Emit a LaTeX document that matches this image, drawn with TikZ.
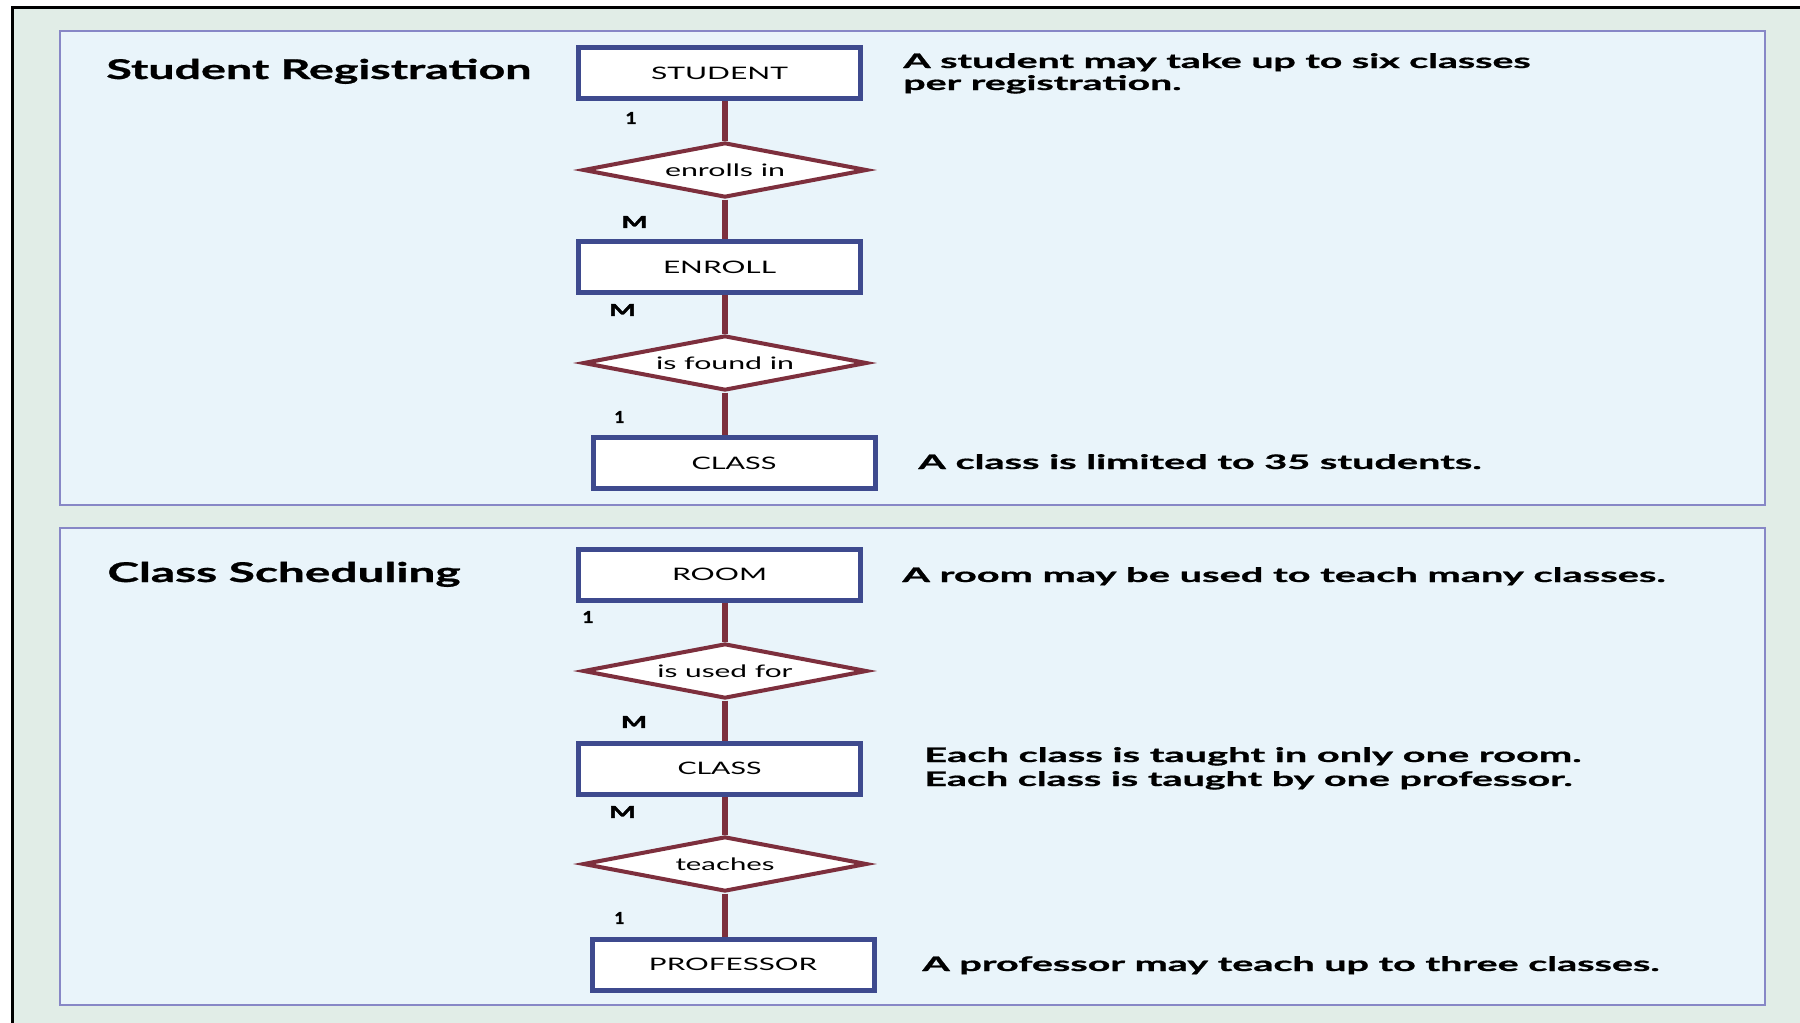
\documentclass[tikz,border=0pt]{standalone}
\usepackage{fontspec}
\setmainfont{Lato}
\newfontfamily\heavyfont{Lato}[BoldFeatures={FakeBold=0.8}]
\newfontfamily\cardfont{Lato}[BoldFeatures={FakeBold=2}]
\usepackage{graphicx}
\usetikzlibrary{shapes.geometric}
\definecolor{outerbg}{HTML}{E1EDE7}
\definecolor{panelbg}{HTML}{E9F4FA}
\definecolor{panelline}{HTML}{8787C6}
\definecolor{boxline}{HTML}{3E4A8E}
\definecolor{relline}{HTML}{7D2F3D}
\newcommand{\fitw}[2]{\resizebox{#1}{\height}{#2}}
\begin{document}
\begin{tikzpicture}[x=0.5pt,y=-0.5pt,
  entity/.style={draw=boxline, line width=2.5pt, fill=white, rectangle,
    minimum width=141pt, minimum height=25.5pt, inner sep=0pt,
    font=\fontsize{8.6}{10}\selectfont},
  relation/.style={draw=relline, line width=2pt, fill=white, diamond, aspect=5,
    minimum width=142pt, minimum height=27.5pt, inner sep=0pt,
    font=\fontsize{8.6}{10}\selectfont},
  link/.style={draw=relline, line width=3pt},
  card/.style={font=\cardfont\bfseries\fontsize{8.2}{9}\selectfont, inner sep=0pt},
  note/.style={font=\heavyfont\bfseries\fontsize{10}{12}\selectfont, inner sep=0pt, anchor=base west},
  heading/.style={font=\heavyfont\bfseries\fontsize{13.6}{16}\selectfont, inner sep=0pt, anchor=base west},
  panel/.style={fill=panelbg, draw=panelline, line width=1pt}]
\useasboundingbox (0,0) rectangle (1800,1023);
\fill[white] (0,0) rectangle (1800,1023);
\fill[outerbg] (12,7) rectangle (1800,1023);
\draw[black, line width=1.5pt] (12,1023) -- (12,7) -- (1800,7);
\draw[panel] (60,31) rectangle (1765,505);
\draw[panel] (60,528) rectangle (1765,1005);

% Panel 1
\node[heading] (h1) at (106,79) {\fitw{212.5pt}{Student Registration}};
\node[entity] (student) at (719.5,73) {\fitw{68.5pt}{STUDENT}};
\node[relation] (enrolls) at (725,170) {\fitw{60pt}{enrolls in}};
\node[entity] (enroll) at (719.5,267) {\fitw{56.5pt}{ENROLL}};
\node[relation] (found) at (725,363) {\fitw{69pt}{is found in}};
\node[entity] (classa) at (734,463) {\fitw{42.5pt}{CLASS}};
\draw[link] (enrolls.north) -- (enrolls.north |- student.south);
\draw[link] (enrolls.south) -- (enrolls.south |- enroll.north);
\draw[link] (found.north) -- (found.north |- enroll.south);
\draw[link] (found.south) -- (found.south |- classa.north);
\node[card] (c1) at (631,118) {\fitw{5.5pt}{1}};
\node[card] (c2) at (634.5,222) {\fitw{13pt}{M}};
\node[card] (c3) at (622.5,310) {\fitw{13.5pt}{M}};
\node[card] (c4) at (619.5,417) {\fitw{5pt}{1}};
\node[note] (t1a) at (903,68) {\fitw{313.5pt}{A student may take up to six classes}};
\node[note] (t1b) at (903,90) {\fitw{139pt}{per registration.}};
\node[note] (t2) at (918,469) {\fitw{281.5pt}{A class is limited to 35 students.}};

% Panel 2
\node[heading] (h2) at (107,582) {\fitw{176.5pt}{Class Scheduling}};
\node[entity] (room) at (719.5,574.5) {\fitw{47.5pt}{ROOM}};
\node[relation] (used) at (725,671) {\fitw{67.5pt}{is used for}};
\node[entity] (classb) at (719.5,768.5) {\fitw{42pt}{CLASS}};
\node[relation] (teaches) at (725,864) {\fitw{49.5pt}{teaches}};
\node[entity] (prof) at (733,964.5) {\fitw{84pt}{PROFESSOR}};
\draw[link] (used.north) -- (used.north |- room.south);
\draw[link] (used.south) -- (used.south |- classb.north);
\draw[link] (teaches.north) -- (teaches.north |- classb.south);
\draw[link] (teaches.south) -- (teaches.south |- prof.north);
\node[card] (c5) at (588,617) {\fitw{5.5pt}{1}};
\node[card] (c6) at (634,722) {\fitw{13pt}{M}};
\node[card] (c7) at (622.5,812) {\fitw{13.5pt}{M}};
\node[card] (c8) at (619.5,918) {\fitw{5pt}{1}};
\node[note] (t3) at (902,582) {\fitw{381.5pt}{A room may be used to teach many classes.}};
\node[note] (t4a) at (924,762) {\fitw{328.5pt}{Each class is taught in only one room.}};
\node[note] (t4b) at (924,786) {\fitw{324pt}{Each class is taught by one professor.}};
\node[note] (t5) at (922,971) {\fitw{368.5pt}{A professor may teach up to three classes.}};
\end{tikzpicture}
\end{document}
